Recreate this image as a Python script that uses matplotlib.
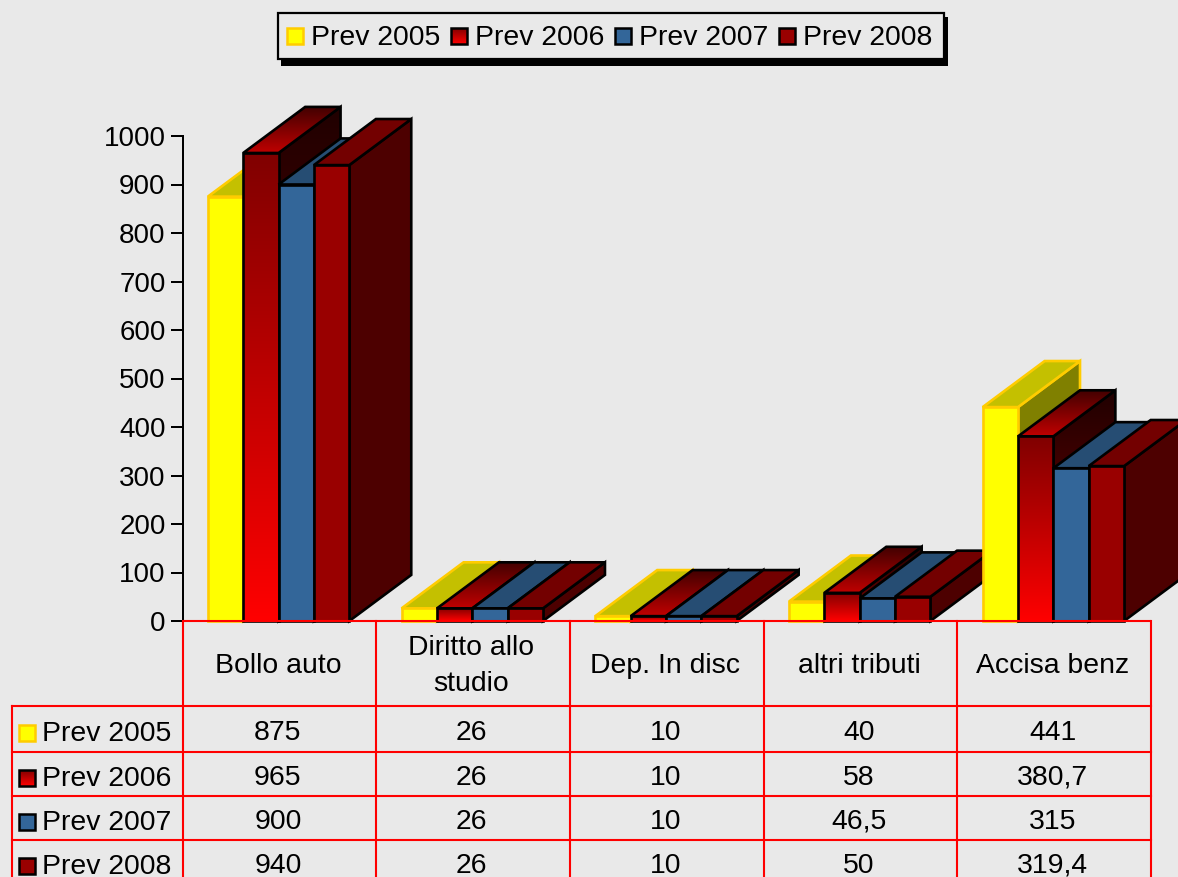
import numpy as np
import matplotlib
matplotlib.use("Agg")
import matplotlib.pyplot as plt
from matplotlib.patches import Polygon, Rectangle
from matplotlib.colors import LinearSegmentedColormap

plt.rcParams['font.family'] = ['Liberation Sans', 'DejaVu Sans']

#datos
categorias = ["Bollo auto", "Diritto allo\nstudio", "Dep. In disc", "altri tributi", "Accisa benz"]
series = ["Prev 2005", "Prev 2006", "Prev 2007", "Prev 2008"]
prev_2005 = [875, 26, 10, 40, 441]
prev_2006 = [965, 26, 10, 58, 380.7]
prev_2007 = [900, 26, 10, 46.5, 315]
prev_2008 = [940, 26, 10, 50, 319.4]
valores = [prev_2005, prev_2006, prev_2007, prev_2008]
ticks_y = list(range(0, 1001, 100))

#colores: (frente arriba, frente abajo, techo atras, techo adelante, lado arriba, lado abajo, borde)
estilos = [
    ("#ffff00", "#ffff00", "#c4c000", "#c4c000", "#808000", "#808000", "#ffcc00"),
    ("#800000", "#ff0000", "#400000", "#c00000", "#200000", "#800000", "#000000"),
    ("#336699", "#336699", "#264d73", "#264d73", "#1a334d", "#1a334d", "#000000"),
    ("#990000", "#990000", "#730000", "#730000", "#4d0000", "#4d0000", "#000000"),
]
fondo = "#e9e9e9"
rojo = "#ff0000"
letra = 20.4

W, H = 1178, 877
fig = plt.figure(figsize=(W / 100, H / 100), dpi=100, facecolor=fondo)

#posiciones en pixeles
x0, x1 = 182.5, 1151.0
y0, y1 = 621.0, 136.0
ax = fig.add_axes([x0 / W, 1 - y0 / H, (x1 - x0) / W, (y0 - y1) / H], facecolor="none")
px = fig.add_axes([0, 0, 1, 1], facecolor="none", zorder=5)
px.set_xlim(0, W)
px.set_ylim(H, 0)
px.axis("off")

#geometria de las barras, en unidades de los ejes
ancho = 0.1825
margen = 0.131
prof_x = 0.32
prof_y = 95.0

z = [10]


def relleno(eje, puntos, c_arriba, c_abajo, borde, lw=1.9):
    z[0] += 1
    xs = [p[0] for p in puntos]
    ys = [p[1] for p in puntos]
    base = Polygon(puntos, closed=True, facecolor="none", edgecolor="none", zorder=z[0], clip_on=False)
    eje.add_patch(base)
    if c_arriba == c_abajo:
        base.set_facecolor(c_arriba)
    else:
        cm = LinearSegmentedColormap.from_list("g", [c_abajo, c_arriba])
        grad = np.linspace(0, 1, 256).reshape(-1, 1)
        arr, aba = max(ys), min(ys)
        if eje.yaxis_inverted():
            grad = grad[::-1]
        im = eje.imshow(grad, extent=[min(xs), max(xs), aba, arr], origin="lower", aspect="auto",
                        cmap=cm, zorder=z[0], interpolation="bilinear")
        im.set_clip_box(fig.bbox)
        im.set_clip_path(base)
    z[0] += 1
    eje.add_patch(Polygon(puntos, closed=True, facecolor="none", edgecolor=borde, lw=lw,
                          zorder=z[0], clip_on=False, joinstyle="miter"))


def barra(i, j, v, est):
    xa = i + margen + j * ancho
    xb = xa + ancho
    fa, fb, ta, tb, la, lb, borde = est
    #lado
    relleno(ax, [(xb, 0), (xb + prof_x, prof_y), (xb + prof_x, v + prof_y), (xb, v)], la, lb, borde)
    #techo
    relleno(ax, [(xa, v), (xb, v), (xb + prof_x, v + prof_y), (xa + prof_x, v + prof_y)], ta, tb, borde)
    #frente
    relleno(ax, [(xa, 0), (xb, 0), (xb, v), (xa, v)], fa, fb, borde)


for i in range(len(categorias)):
    for j in range(len(series)):
        barra(i, j, valores[j][i], estilos[j])

ax.set_xlim(0, len(categorias))
ax.set_ylim(0, 1000)
ax.set_xticks([])
ax.set_yticks(ticks_y)
ax.tick_params(axis="y", labelsize=20, length=8.6, width=1.44, pad=3.5, color="black")
for s in ["top", "right", "bottom"]:
    ax.spines[s].set_visible(False)
ax.spines["left"].set_linewidth(1.44)


def cuadrito(xc, yc, est):
    pts = [(xc - 8, yc + 8), (xc + 8, yc + 8), (xc + 8, yc - 8), (xc - 8, yc - 8)]
    relleno(px, pts, est[0], est[1], est[6], lw=1.8)


#leyenda
px.add_patch(Rectangle((281, 17), 667, 49, facecolor="black", edgecolor="none", zorder=1))
px.add_patch(Rectangle((278, 13), 666, 46, facecolor=fondo, edgecolor="black", lw=1.6, zorder=2))
for j, nombre in enumerate(series):
    cuadrito(295 + j * 164, 36, estilos[j])
    px.text(311 + j * 164, 38, nombre, fontsize=letra, va="center", ha="left", zorder=60)

#tabla
col_ancho = (x1 - x0) / len(categorias)
col_x = [x0 + k * col_ancho for k in range(len(categorias) + 1)]
filas_y = [705.5, 751.5, 796, 840, 884]
lw_t = 1.5
px.plot([x0, x1], [y0, y0], color=rojo, lw=lw_t, zorder=50, solid_capstyle="butt")
for fy in filas_y:
    px.plot([11.5, x1], [fy, fy], color=rojo, lw=lw_t, zorder=50)
px.plot([11.5, 11.5], [filas_y[0], 884], color=rojo, lw=lw_t, zorder=50)
for cx in col_x:
    px.plot([cx, cx], [y0, 884], color=rojo, lw=lw_t, zorder=50)
px.set_xlim(0, W)
px.set_ylim(H, 0)

for k, cat in enumerate(categorias):
    cx = (col_x[k] + col_x[k + 1]) / 2 - 1.5
    px.text(cx, 666, cat, fontsize=letra, ha="center", va="center", linespacing=1.52, zorder=60)
    for j in range(len(series)):
        yc = (filas_y[j] + filas_y[j + 1]) / 2 + 4
        px.text(cx, yc, str(valores[j][k]).replace(".", ","), fontsize=letra, ha="center", va="center", zorder=60)

for j, nombre in enumerate(series):
    yc = (filas_y[j] + filas_y[j + 1]) / 2
    cuadrito(26.5, yc + 4, estilos[j])
    px.text(42, yc + 5.5, nombre, fontsize=letra, ha="left", va="center", zorder=60)

px.set_xlim(0, W)
px.set_ylim(H, 0)
fig.savefig("out.png", dpi=100, facecolor=fondo)
